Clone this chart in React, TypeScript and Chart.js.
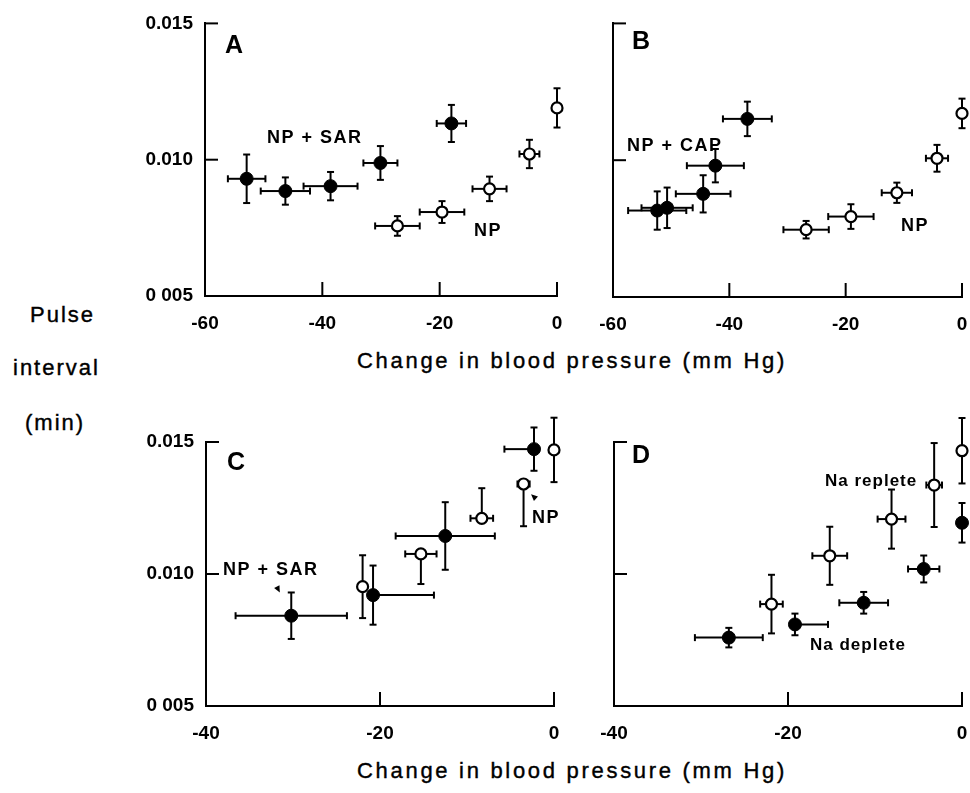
import React, { useEffect, useRef } from 'react';
import { Chart, registerables } from 'chart.js';

Chart.register(...registerables);

type Err = number | [number, number];

// ---------- tick values / labels ----------
const X_TICKS_TOP = [-60, -40, -20, 0];
const X_LABELS_TOP = ['-60', '-40', '-20', '0'];
const X_TICKS_BOTTOM = [-40, -20, 0];
const X_LABELS_BOTTOM = ['-40', '-20', '0'];
const Y_TICKS = [0.005, 0.01, 0.015];
const Y_LABELS = ['0 005', '0.010', '0.015'];
const Y_LABELS_NONE = ['', '', ''];

// ---------- Panel A ----------
const A_SAR_X = [-52.9, -46.3, -38.6, -30.1, -18.0];
const A_SAR_Y = [0.0093, 0.00885, 0.00903, 0.00988, 0.01133];
const A_SAR_XERR: Err[] = [3.2, 4.2, 4.6, 2.9, 2.5];
const A_SAR_YERR: Err[] = [0.00089, 0.0005, 0.00052, 0.00062, 0.00068];
const A_NP_X = [-27.2, -19.6, -11.5, -4.7, 0];
const A_NP_Y = [0.00757, 0.00808, 0.00893, 0.01021, 0.0119];
const A_NP_XERR: Err[] = [3.8, 3.8, 2.9, 1.7, 0];
const A_NP_YERR: Err[] = [0.00036, 0.0004, 0.00045, 0.00052, 0.00072];

// ---------- Panel B ----------
const B_CAP_X = [-52.4, -50.7, -44.5, -42.4, -36.9];
const B_CAP_Y = [0.00816, 0.00826, 0.00877, 0.0098, 0.01151];
const B_CAP_XERR: Err[] = [5.0, 4.4, 4.7, 4.9, 4.2];
const B_CAP_YERR: Err[] = [0.0007, 0.00074, 0.00068, 0.00061, 0.00063];
const B_NP_X = [-26.8, -19.1, -11.2, -4.3, 0];
const B_NP_Y = [0.00746, 0.00794, 0.00881, 0.01007, 0.01171];
const B_NP_XERR: Err[] = [3.9, 3.9, 2.6, 1.9, 0];
const B_NP_YERR: Err[] = [0.00032, 0.00045, 0.00037, 0.00049, 0.00054];

// ---------- Panel C ----------
const C_SAR_X = [-30.2, -20.8, -12.5, -2.3];
const C_SAR_Y = [0.00842, 0.0092, 0.01144, 0.01473];
const C_SAR_XERR: Err[] = [6.4, [0.5, 7.0], 5.7, [3.4, 0]];
const C_SAR_YERR: Err[] = [0.00088, 0.00112, 0.00128, 0.00082];
const C_NP_X = [-22.0, -15.3, -8.3, -3.5, 0];
const C_NP_Y = [0.00952, 0.01076, 0.01211, 0.01341, 0.0147];
const C_NP_XERR: Err[] = [0, 1.8, 1.3, 0.7, 0];
const C_NP_YERR: Err[] = [0.00119, [0.00114, 0], [0, 0.00114], [0.0016, 0], 0.00122];

// ---------- Panel D ----------
const D_DEP_X = [-26.8, -19.2, -11.3, -4.4, 0];
const D_DEP_Y = [0.00759, 0.00809, 0.00891, 0.01019, 0.01194];
const D_DEP_XERR: Err[] = [3.9, [0, 3.8], 2.8, 1.8, 0];
const D_DEP_YERR: Err[] = [0.00037, 0.00041, 0.00041, 0.00051, 0.00075];
const D_REP_X = [-21.9, -15.2, -8.1, -3.2, 0];
const D_REP_Y = [0.00886, 0.01069, 0.01208, 0.01337, 0.01467];
const D_REP_XERR: Err[] = [1.3, 2.0, 1.6, 0.9, 0];
const D_REP_YERR: Err[] = [0.00111, 0.0011, 0.00112, 0.00159, 0.00124];

const FONT = '"Liberation Sans", Arial, Helvetica, sans-serif';

function lohi(e: Err | undefined): [number, number] {
  if (e == null) return [0, 0];
  return Array.isArray(e) ? e : [e, e];
}

function filledSet(xs: number[], ys: number[], xErr: Err[], yErr: Err[]) {
  return {
    data: xs.map((x, i) => ({ x, y: ys[i] })),
    pointRadius: 6.5,
    pointBackgroundColor: '#000',
    pointBorderColor: '#000',
    pointBorderWidth: 1,
    showLine: false,
    clip: false,
    xErr,
    yErr,
  };
}

function openSet(xs: number[], ys: number[], xErr: Err[], yErr: Err[]) {
  return {
    data: xs.map((x, i) => ({ x, y: ys[i] })),
    pointRadius: 5.5,
    pointBackgroundColor: '#fff',
    pointBorderColor: '#000',
    pointBorderWidth: 2.2,
    showLine: false,
    clip: false,
    xErr,
    yErr,
  };
}

const errorBarPlugin = {
  id: 'errorBars',
  beforeDatasetsDraw(chart: any) {
    const { ctx } = chart;
    const xs = chart.scales.x;
    const ys = chart.scales.y;
    const cap = 3.5;
    ctx.save();
    ctx.strokeStyle = '#000';
    ctx.lineWidth = 2;
    ctx.lineCap = 'butt';
    const line = (x1: number, y1: number, x2: number, y2: number) => {
      ctx.beginPath();
      ctx.moveTo(x1, y1);
      ctx.lineTo(x2, y2);
      ctx.stroke();
    };
    chart.data.datasets.forEach((ds: any) => {
      const xErr = ds.xErr || [];
      const yErr = ds.yErr || [];
      ds.data.forEach((p: any, i: number) => {
        const px = xs.getPixelForValue(p.x);
        const py = ys.getPixelForValue(p.y);
        const [xl, xh] = lohi(xErr[i]);
        const [yl, yh] = lohi(yErr[i]);
        if (xl > 0) {
          const x0 = xs.getPixelForValue(p.x - xl);
          line(x0, py, px, py);
          line(x0, py - cap, x0, py + cap);
        }
        if (xh > 0) {
          const x1 = xs.getPixelForValue(p.x + xh);
          line(px, py, x1, py);
          line(x1, py - cap, x1, py + cap);
        }
        if (yl > 0) {
          const y0 = ys.getPixelForValue(p.y - yl);
          line(px, py, px, y0);
          line(px - cap, y0, px + cap, y0);
        }
        if (yh > 0) {
          const y1 = ys.getPixelForValue(p.y + yh);
          line(px, py, px, y1);
          line(px - cap, y1, px + cap, y1);
        }
      });
    });
    ctx.restore();
  },
};

const innerTicksPlugin = {
  id: 'innerTicks',
  afterDraw(chart: any) {
    const { ctx, chartArea } = chart;
    const xs = chart.scales.x;
    const ys = chart.scales.y;
    ctx.save();
    ctx.strokeStyle = '#000';
    ctx.lineWidth = 2;
    ys.ticks.forEach((t: any, i: number) => {
      if (i === 0) return;
      const y = ys.getPixelForValue(t.value);
      ctx.beginPath();
      ctx.moveTo(chartArea.left - 1, y);
      ctx.lineTo(chartArea.left + 13, y);
      ctx.stroke();
    });
    xs.ticks.forEach((t: any, i: number) => {
      if (i === 0) return;
      const x = xs.getPixelForValue(t.value);
      ctx.beginPath();
      ctx.moveTo(x, chartArea.bottom + 1);
      ctx.lineTo(x, chartArea.bottom - 14);
      ctx.stroke();
    });
    // annotations (panel letter, series labels, pointers)
    const notes = chart.options.plugins.notes || { texts: [], marks: [] };
    ctx.fillStyle = '#000';
    ctx.textBaseline = 'alphabetic';
    ctx.textAlign = 'left';
    notes.texts.forEach((n: any) => {
      ctx.font = n.font;
      try { (ctx as any).letterSpacing = n.ls || '0px'; } catch (e) { /* ignore */ }
      ctx.fillText(n.text, chartArea.left + n.dx, chartArea.top + n.dy);
    });
    try { (ctx as any).letterSpacing = '0px'; } catch (e) { /* ignore */ }
    notes.marks.forEach((m: any) => {
      const cx = chartArea.left + m.dx;
      const cy = chartArea.top + m.dy;
      const a = m.angle;
      const s = 4;
      const tipX = cx + Math.cos(a) * s;
      const tipY = cy + Math.sin(a) * s;
      const b1x = cx + Math.cos(a + 2.3) * s;
      const b1y = cy + Math.sin(a + 2.3) * s;
      const b2x = cx + Math.cos(a - 2.3) * s;
      const b2y = cy + Math.sin(a - 2.3) * s;
      ctx.beginPath();
      ctx.moveTo(tipX, tipY);
      ctx.lineTo(b1x, b1y);
      ctx.lineTo(b2x, b2y);
      ctx.closePath();
      ctx.fill();
    });
    ctx.restore();
  },
};

type PanelProps = {
  left: number;
  top: number;
  width: number;
  height: number;
  yAxisW: number;
  xAxisH: number;
  padTop: number;
  padRight: number;
  xMin: number;
  xTicks: number[];
  xLabels: string[];
  yLabels: string[];
  datasets: any[];
  notes: { texts: any[]; marks: any[] };
};

function Panel(props: PanelProps) {
  const ref = useRef<HTMLCanvasElement | null>(null);
  useEffect(() => {
    if (!ref.current) return;
    const tickFont = { family: FONT, size: 19, weight: 'bold' as const };
    const chart = new Chart(ref.current, {
      type: 'scatter',
      data: { datasets: props.datasets },
      options: {
        animation: false,
        responsive: false,
        maintainAspectRatio: false,
        devicePixelRatio: 1,
        layout: { padding: { top: props.padTop, right: props.padRight, bottom: 0, left: 0 } },
        plugins: {
          legend: { display: false },
          tooltip: { enabled: false },
          notes: props.notes,
        } as any,
        scales: {
          x: {
            type: 'linear',
            min: props.xMin,
            max: 0,
            afterBuildTicks: (s: any) => {
              s.ticks = props.xTicks.map((v) => ({ value: v }));
            },
            afterFit: (s: any) => {
              s.height = props.xAxisH;
            },
            grid: { display: false, drawTicks: false },
            border: { display: true, color: '#000', width: 2 },
            ticks: {
              color: '#000',
              font: tickFont,
              padding: 16,
              maxRotation: 0,
              autoSkip: false,
              callback: (_v: any, i: number) => props.xLabels[i],
            },
          },
          y: {
            type: 'linear',
            min: 0.005,
            max: 0.015,
            afterBuildTicks: (s: any) => {
              s.ticks = Y_TICKS.map((v) => ({ value: v }));
            },
            afterFit: (s: any) => {
              s.width = props.yAxisW;
            },
            grid: { display: false, drawTicks: false },
            border: { display: true, color: '#000', width: 2 },
            ticks: {
              color: '#000',
              font: tickFont,
              padding: 12,
              autoSkip: false,
              callback: (_v: any, i: number) => props.yLabels[i],
            },
          },
        },
      },
      plugins: [errorBarPlugin, innerTicksPlugin],
    } as any);
    return () => chart.destroy();
  }, []);
  return (
    <canvas
      ref={ref}
      width={props.width}
      height={props.height}
      style={{
        position: 'absolute',
        left: props.left,
        top: props.top,
        width: props.width,
        height: props.height,
      }}
    />
  );
}

const LETTER_FONT = `bold 25px ${FONT}`;
const NOTE_FONT = `bold 18px ${FONT}`;
const NOTE_FONT_SM = `bold 17px ${FONT}`;

export default function App() {
  const label: React.CSSProperties = {
    position: 'absolute',
    fontFamily: FONT,
    fontSize: 22,
    lineHeight: '22px',
    color: '#000',
    whiteSpace: 'nowrap',
    WebkitTextStroke: '0.4px #000',
  };
  return (
    <div
      style={{
        position: 'absolute',
        left: 0,
        top: 0,
        width: 970,
        height: 793,
        background: '#fff',
        overflow: 'hidden',
      }}
    >
      <Panel
        left={100}
        top={0}
        width={480}
        height={345}
        yAxisW={105}
        xAxisH={49}
        padTop={15}
        padRight={23}
        xMin={-60}
        xTicks={X_TICKS_TOP}
        xLabels={X_LABELS_TOP}
        yLabels={Y_LABELS}
        datasets={[
          filledSet(A_SAR_X, A_SAR_Y, A_SAR_XERR, A_SAR_YERR),
          openSet(A_NP_X, A_NP_Y, A_NP_XERR, A_NP_YERR),
        ]}
        notes={{
          texts: [
            { text: 'A', dx: 20, dy: 30, font: LETTER_FONT },
            { text: 'NP + SAR', dx: 62, dy: 120, font: NOTE_FONT, ls: '1.5px' },
            { text: 'NP', dx: 269, dy: 213, font: NOTE_FONT, ls: '1.5px' },
          ],
          marks: [],
        }}
      />
      <Panel
        left={580}
        top={0}
        width={410}
        height={345}
        yAxisW={33}
        xAxisH={48}
        padTop={19}
        padRight={28}
        xMin={-60}
        xTicks={X_TICKS_TOP}
        xLabels={X_LABELS_TOP}
        yLabels={Y_LABELS_NONE}
        datasets={[
          filledSet(B_CAP_X, B_CAP_Y, B_CAP_XERR, B_CAP_YERR),
          openSet(B_NP_X, B_NP_Y, B_NP_XERR, B_NP_YERR),
        ]}
        notes={{
          texts: [
            { text: 'B', dx: 19, dy: 26, font: LETTER_FONT },
            { text: 'NP + CAP', dx: 14, dy: 128, font: NOTE_FONT, ls: '1.5px' },
            { text: 'NP', dx: 288, dy: 208, font: NOTE_FONT, ls: '1.5px' },
          ],
          marks: [],
        }}
      />
      <Panel
        left={100}
        top={400}
        width={480}
        height={345}
        yAxisW={106}
        xAxisH={39}
        padTop={42}
        padRight={26}
        xMin={-40}
        xTicks={X_TICKS_BOTTOM}
        xLabels={X_LABELS_BOTTOM}
        yLabels={Y_LABELS}
        datasets={[
          filledSet(C_SAR_X, C_SAR_Y, C_SAR_XERR, C_SAR_YERR),
          openSet(C_NP_X, C_NP_Y, C_NP_XERR, C_NP_YERR),
        ]}
        notes={{
          texts: [
            { text: 'C', dx: 21, dy: 28, font: LETTER_FONT },
            { text: 'NP + SAR', dx: 17, dy: 133, font: NOTE_FONT, ls: '1.5px' },
            { text: 'NP', dx: 326, dy: 81, font: NOTE_FONT, ls: '1.5px' },
          ],
          marks: [
            { dx: 72, dy: 147, angle: 1.1 },
            { dx: 328, dy: 55, angle: -2.4 },
          ],
        }}
      />
      <Panel
        left={580}
        top={400}
        width={410}
        height={345}
        yAxisW={34}
        xAxisH={39}
        padTop={42}
        padRight={28}
        xMin={-40}
        xTicks={X_TICKS_BOTTOM}
        xLabels={X_LABELS_BOTTOM}
        yLabels={Y_LABELS_NONE}
        datasets={[
          filledSet(D_DEP_X, D_DEP_Y, D_DEP_XERR, D_DEP_YERR),
          openSet(D_REP_X, D_REP_Y, D_REP_XERR, D_REP_YERR),
        ]}
        notes={{
          texts: [
            { text: 'D', dx: 18, dy: 21, font: LETTER_FONT },
            { text: 'Na replete', dx: 211, dy: 44, font: NOTE_FONT_SM, ls: '1px' },
            { text: 'Na deplete', dx: 196, dy: 208, font: NOTE_FONT_SM, ls: '1px' },
          ],
          marks: [],
        }}
      />

      <div style={{ ...label, left: 30, top: 304, letterSpacing: '2px' }}>Pulse</div>
      <div style={{ ...label, left: 13, top: 357, letterSpacing: '2px' }}>interval</div>
      <div style={{ ...label, left: 25, top: 412, letterSpacing: '2px' }}>(min)</div>

      <div style={{ ...label, left: 357, top: 350, letterSpacing: '2.7px' }}>
        Change in blood pressure (mm Hg)
      </div>
      <div style={{ ...label, left: 357, top: 760, letterSpacing: '2.7px' }}>
        Change in blood pressure (mm Hg)
      </div>
    </div>
  );
}
